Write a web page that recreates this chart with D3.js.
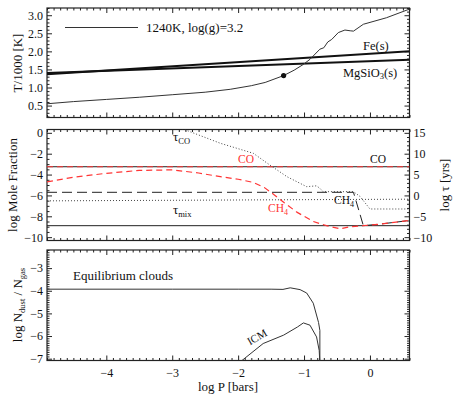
<!DOCTYPE html>
<html><head><meta charset="utf-8">
<script src="https://cdn.jsdelivr.net/npm/d3@7"></script>
<style>
body{margin:0;background:#fff;}
svg{display:block;}
svg text{font-family:"Liberation Serif","Times New Roman","DejaVu Serif",serif;}
</style></head><body>
<svg id="c" width="457" height="399"></svg>
<script>
// ---------------- data ----------------
const xMajorTicks = [-4, -3, -2, -1, 0];
// top panel: temperature profile (T/1000) vs log P
const tempLogP = [-4.9, -4.5, -4.0, -3.5, -3.0, -2.5, -2.12, -1.8, -1.59, -1.31, -1.15, -1.01, -0.91, -0.76, -0.70, -0.64, -0.58, -0.48, -0.38, -0.30, -0.25, -0.10, 0.25, 0.60];
const tempT    = [0.55, 0.61, 0.67, 0.73, 0.80, 0.87, 0.95, 1.05, 1.14, 1.33, 1.48, 1.64, 1.78, 2.06, 2.10, 2.26, 2.33, 2.52, 2.59, 2.57, 2.56, 2.75, 2.93, 3.17];
const dotLogP = [-1.31];
const dotT = [1.33];
const feLogP = [-4.9, 0.6];
const feT = [1.37, 2.0];
const mgLogP = [-4.9, 0.6];
const mgT = [1.40, 1.77];
const topYTicks = [0.5, 1.0, 1.5, 2.0, 2.5, 3.0];

// middle panel: log mole fraction (left) and log tau (right)
const coLogP = [-4.9, 0.6];
const coMF = [-3.25, -3.25];
const ch4RedLogP = [-4.9, -4.5, -4.0, -3.5, -3.0, -2.6, -2.27, -2.0, -1.77, -1.6, -1.45, -1.3, -1.11, -0.86, -0.66, -0.45, -0.30, -0.10, 0.15, 0.60];
const ch4RedMF   = [-4.7, -4.25, -3.88, -3.6, -3.55, -3.85, -4.2, -4.45, -4.75, -5.25, -5.95, -6.7, -7.6, -8.5, -8.9, -9.2, -9.0, -8.9, -8.75, -8.4];
const ch4BlackLogP = [-4.9, -0.25, -0.10, 0.15, 0.60];
const ch4BlackMF   = [-5.7, -5.7, -8.9, -8.75, -8.4];
const tauCOLogP = [-2.85, -2.27, -1.77, -1.52, -1.26, -0.96, -0.81, -0.76, -0.71, -0.25, -0.15, 0.0, 0.60];
const tauCO     = [16.0, 12.5, 10.1, 7.3, 4.5, 2.1, 2.3, 1.7, 0.9, 0.9, -0.25, -3.25, -3.25];
const tauDotLogP = [-4.9, 0.6];
const tauDot = [-1.3, -0.9];
const tauMixLogP = [-4.9, 0.6];
const tauMixMF = [-8.9, -8.9];
const midYTicks = [0, -2, -4, -6, -8, -10];
const tauTicks = [15, 10, 5, 0, -5, -10];

// bottom panel: log Ndust/Ngas
const eqLogP = [-4.9, -3.0, -2.0, -1.5, -1.32, -1.21, -1.06, -0.96, -0.86, -0.78, -0.76, -0.76];
const eqN    = [-3.93, -3.93, -3.93, -3.93, -3.94, -3.87, -3.95, -4.1, -4.55, -5.4, -5.75, -7.2];
const icmLogP = [-1.95, -1.62, -1.31, -1.10, -1.01, -0.91, -0.81, -0.77, -0.76];
const icmN    = [-7.1, -6.33, -5.96, -5.6, -5.42, -5.52, -6.04, -6.64, -7.2];
const botYTicks = [-3, -4, -5, -6, -7];

// ---------------- layout ----------------
const L = 47, R = 409.5;
const P = {top: [8, 117.5], mid: [129.5, 240.5], bot: [250, 360.5]};
const x = d3.scaleLinear().domain([-4.9, 0.6]).range([L, R]);
const yT = d3.scaleLinear().domain([0.17, 3.2]).range([P.top[1], P.top[0]]);
const yM = d3.scaleLinear().domain([-10.32, 0.32]).range([P.mid[1], P.mid[0]]);
const yTau = d3.scaleLinear().domain([2.5 * -10.32 + 15, 2.5 * 0.32 + 15]).range([P.mid[1], P.mid[0]]);
const yB = d3.scaleLinear().domain([-7.08, -2.2]).range([P.bot[1], P.bot[0]]);

const svg = d3.select("#c");
const INK = "#222";
const RED = "#ff3535";
const FONT = '"Liberation Serif","Times New Roman","DejaVu Serif",serif';
const fmt1 = d3.format(".1f");
const fmt0 = d3.format("d");

function steps(a, b, s) { const o = []; const n = Math.round((b - a) / s); for (let i = 0; i <= n; i++) o.push(+(a + i * s).toFixed(4)); return o; }
function minors(scale, step, majors) {
  const d = scale.domain(); const lo = Math.min(d[0], d[1]), hi = Math.max(d[0], d[1]);
  return steps(Math.ceil(lo / step - 1e-6) * step, Math.floor(hi / step + 1e-6) * step, step)
    .filter(v => !majors.some(m => Math.abs(m - v) < 1e-6));
}
const xMinor = minors(x, 0.1, xMajorTicks);

function styleAxis(g, fs) {
  g.attr("font-family", FONT);
  g.select(".domain").remove();
  g.selectAll("line").attr("stroke", INK).attr("stroke-width", 1);
  g.selectAll("text").attr("fill", "#111").style("font-size", fs + "px").style("font-family", FONT);
}

function panel(key, yS, yMaj, yStep, yFmt, showX, rS, rMaj, rStep, rFmt) {
  const [t, b] = P[key];
  const g = svg.append("g");
  styleAxis(g.append("g").attr("transform", `translate(0,${b})`)
    .call(d3.axisBottom(x).tickValues(xMajorTicks).tickSize(-5).tickPadding(8).tickFormat(showX ? fmt0 : "")), 12);
  styleAxis(g.append("g").attr("transform", `translate(0,${b})`).call(d3.axisBottom(x).tickValues(xMinor).tickSize(-2.5).tickFormat("")), 10);
  styleAxis(g.append("g").attr("transform", `translate(0,${t})`).call(d3.axisTop(x).tickValues(xMajorTicks).tickSize(-5).tickFormat("")), 10);
  styleAxis(g.append("g").attr("transform", `translate(0,${t})`).call(d3.axisTop(x).tickValues(xMinor).tickSize(-2.5).tickFormat("")), 10);
  styleAxis(g.append("g").attr("transform", `translate(${L},0)`).call(d3.axisLeft(yS).tickValues(yMaj).tickSize(-5).tickPadding(4).tickFormat(yFmt)), 12);
  styleAxis(g.append("g").attr("transform", `translate(${L},0)`).call(d3.axisLeft(yS).tickValues(minors(yS, yStep, yMaj)).tickSize(-2.5).tickFormat("")), 10);
  const rs = rS || yS, rm = rMaj || yMaj, rst = rStep || yStep;
  styleAxis(g.append("g").attr("transform", `translate(${R},0)`).call(d3.axisRight(rs).tickValues(rm).tickSize(-5).tickPadding(4).tickFormat(rS ? rFmt : "")), 12);
  styleAxis(g.append("g").attr("transform", `translate(${R},0)`).call(d3.axisRight(rs).tickValues(minors(rs, rst, rm)).tickSize(-2.5).tickFormat("")), 10);
  g.append("rect").attr("x", L).attr("y", t).attr("width", R - L).attr("height", b - t)
    .attr("fill", "none").attr("stroke", INK).attr("stroke-width", 1.2);
  svg.append("clipPath").attr("id", "clip-" + key).append("rect")
    .attr("x", L).attr("y", t).attr("width", R - L).attr("height", b - t);
  return svg.append("g").attr("clip-path", `url(#clip-${key})`);
}

const gT = panel("top", yT, topYTicks, 0.1, fmt1, false);
const gM = panel("mid", yM, midYTicks, 0.5, fmt0, false, yTau, tauTicks, 1, fmt0);
const gB = panel("bot", yB, botYTicks, 0.1, fmt0, true);

function line(g, xs, ys, yS, opts) {
  const pts = xs.map((v, i) => [x(v), yS(ys[i])]);
  g.append("path").attr("d", d3.line()(pts)).attr("fill", "none")
    .attr("stroke", opts.color || "#333").attr("stroke-width", opts.w || 1)
    .attr("stroke-dasharray", opts.dash || null).attr("stroke-linejoin", "round");
}

function txt(xp, yp, s, fs, color) {
  return svg.append("text").attr("x", xp).attr("y", yp).attr("fill", color || "#111")
    .style("font-size", fs + "px").text(s);
}

// ---- top panel ----
line(gT, feLogP, feT, yT, {color: "#111", w: 2});
line(gT, mgLogP, mgT, yT, {color: "#111", w: 2});
line(gT, tempLogP, tempT, yT, {color: "#333", w: 1});
gT.selectAll("circle.d").data(dotLogP).enter().append("circle")
  .attr("cx", d => x(d)).attr("cy", (d, i) => yT(dotT[i])).attr("r", 2.6).attr("fill", "#111");

svg.append("line").attr("x1", 65).attr("x2", 138).attr("y1", 27.5).attr("y2", 27.5).attr("stroke", "#333").attr("stroke-width", 1);
txt(146, 31.5, "1240K, log(g)=3.2", 13);
txt(363, 50, "Fe(s)", 12.5);
const mg = svg.append("text").attr("x", 343).attr("y", 76.5).style("font-size", "12.5px").attr("fill", "#111");
mg.append("tspan").text("MgSiO");
mg.append("tspan").attr("dy", 2.5).style("font-size", "8.5px").text("3");
mg.append("tspan").attr("dy", -2.5).text("(s)");

// ---- middle panel ----
line(gM, tauMixLogP, tauMixMF, yM, {color: "#222", w: 1});
line(gM, tauDotLogP, tauDot, yTau, {color: "#444", w: 1, dash: "1,2"});
line(gM, tauCOLogP, tauCO, yTau, {color: "#444", w: 1, dash: "1,2"});
line(gM, coLogP, coMF, yM, {color: "#222", w: 1});
line(gM, ch4BlackLogP, ch4BlackMF, yM, {color: "#222", w: 1, dash: "10,5"});
line(gM, coLogP, coMF, yM, {color: RED, w: 1.2, dash: "6,4"});
line(gM, ch4RedLogP, ch4RedMF, yM, {color: RED, w: 1.2, dash: "6,4"});

function sub(xp, yp, main, s, color, fs, sfs) {
  const t = svg.append("text").attr("x", xp).attr("y", yp).attr("fill", color).style("font-size", fs + "px");
  t.append("tspan").text(main);
  t.append("tspan").attr("dy", 3).style("font-size", sfs + "px").text(s);
  return t;
}
sub(173, 141, "τ", "CO", "#111", 13, 8.5);
sub(173, 214, "τ", "mix", "#111", 13, 8.5);
txt(238, 163, "CO", 11.5, RED);
txt(370, 163, "CO", 11.5, "#111");
sub(268, 212, "CH", "4", RED, 11.5, 8);
sub(334, 204, "CH", "4", "#111", 11.5, 8);

// ---- bottom panel ----
line(gB, eqLogP, eqN, yB, {color: "#333", w: 1});
line(gB, icmLogP, icmN, yB, {color: "#333", w: 1});
txt(73, 280, "Equilibrium clouds", 13);
svg.append("text").attr("transform", "translate(257,337) rotate(-30)").attr("text-anchor", "middle").attr("dy", "0.35em")
  .attr("fill", "#111").style("font-size", "11px").text("ICM");

// ---- axis titles ----
function vtitle(xp, yp) {
  return svg.append("text").attr("transform", `translate(${xp},${yp}) rotate(-90)`).attr("text-anchor", "middle").attr("dy", "0.35em")
    .style("font-size", "13px").attr("fill", "#111");
}
vtitle(17, 63).text("T/1000 [K]");
vtitle(12, 185).text("log Mole Fraction");
vtitle(444, 185).text("log τ [yrs]");
const nl = vtitle(17, 305);
nl.append("tspan").text("log N");
nl.append("tspan").attr("dy", 3).style("font-size", "8.5px").text("dust");
nl.append("tspan").attr("dy", -3).text(" / N");
nl.append("tspan").attr("dy", 3).style("font-size", "8.5px").text("gas");
svg.append("text").attr("x", 228).attr("y", 391).attr("text-anchor", "middle").style("font-size", "13px").attr("fill", "#111").text("log P [bars]");
</script>
</body></html>
